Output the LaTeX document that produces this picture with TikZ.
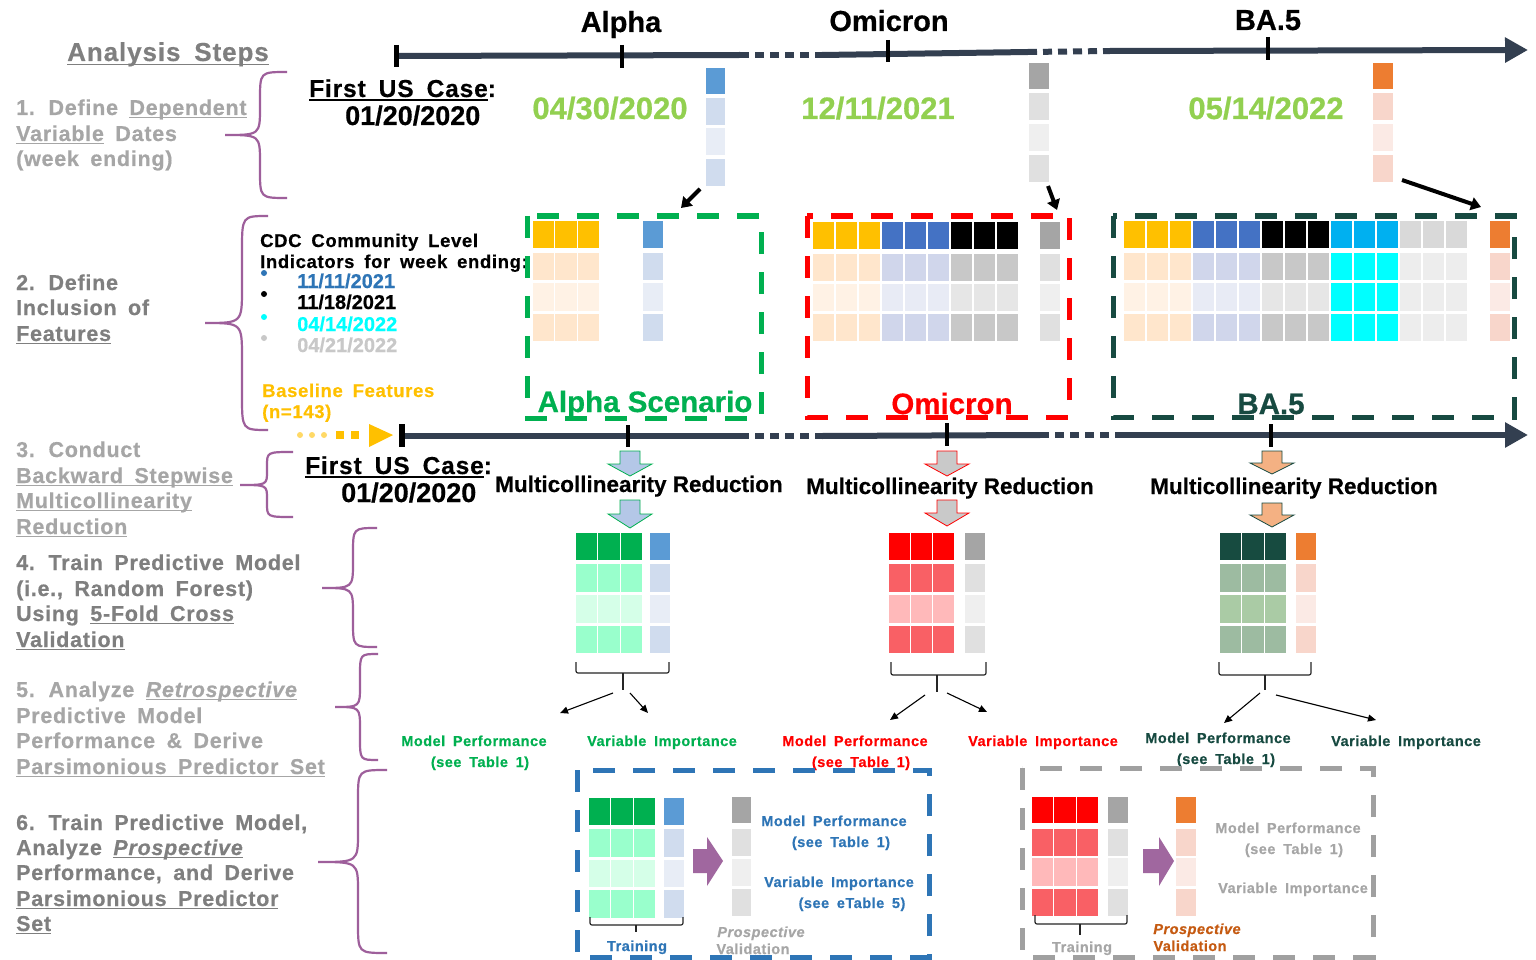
\documentclass[tikz,border=0pt]{standalone}
\usepackage{fontspec}
\setmainfont{Liberation Sans}[BoldFont={Liberation Sans Bold}, BoldItalicFont={Liberation Sans Bold Italic}, BoldFeatures={FakeBold=0.5}]
\newfontfamily\wsb{Liberation Sans Bold}[WordSpace=1.7, LetterSpace=3.5, FakeBold=0.5]
\newfontfamily\wsbi{Liberation Sans Bold Italic}[WordSpace=1.7, LetterSpace=3.5, FakeBold=0.5]
\newcommand\myul[1]{\setbox0\hbox{#1}\leavevmode\rlap{\rule[-0.16em]{\wd0}{0.06em}}\box0\relax}
\usetikzlibrary{arrows.meta}
\definecolor{tlc}{HTML}{333F50}
\definecolor{brc}{HTML}{9E5F9B}
\definecolor{dg}{HTML}{7F7F7F}
\definecolor{lg}{HTML}{A6A6A6}
\definecolor{dtgreen}{HTML}{92D050}
\definecolor{agreen}{HTML}{00B050}
\definecolor{ared}{HTML}{FF0000}
\definecolor{bgreen}{HTML}{174A41}
\definecolor{pblue}{HTML}{2E75B6}
\definecolor{porange}{HTML}{C55A11}
\definecolor{gbox}{HTML}{A0A0A0}
\definecolor{ylw}{HTML}{FFC000}
\definecolor{ylw2}{HTML}{FFE6CC}
\definecolor{ylw3}{HTML}{FFF2E5}
\definecolor{ylwl}{HTML}{FFD966}
\definecolor{bl}{HTML}{4472C4}
\definecolor{bl2}{HTML}{D0D6EB}
\definecolor{bl3}{HTML}{E8EBF5}
\definecolor{blk2}{HTML}{C8C8C8}
\definecolor{blk3}{HTML}{E6E6E6}
\definecolor{cy}{HTML}{00B0F0}
\definecolor{cy2}{HTML}{00FFFF}
\definecolor{lgr}{HTML}{D9D9D9}
\definecolor{lgr2}{HTML}{EDEDED}
\definecolor{tb}{HTML}{5B9BD5}
\definecolor{tb2}{HTML}{D0DCEE}
\definecolor{tb3}{HTML}{E8EDF6}
\definecolor{tg}{HTML}{A5A5A5}
\definecolor{tg2}{HTML}{E0E0E0}
\definecolor{tg3}{HTML}{EFEFEF}
\definecolor{to}{HTML}{ED7D31}
\definecolor{to2}{HTML}{F8D6CB}
\definecolor{to3}{HTML}{FBEAE5}
\definecolor{mg}{HTML}{00B050}
\definecolor{mg2}{HTML}{99FFCC}
\definecolor{mg3}{HTML}{D5FFE8}
\definecolor{mr}{HTML}{FF0000}
\definecolor{mr2}{HTML}{F96065}
\definecolor{mr3}{HTML}{FFB9BA}
\definecolor{md}{HTML}{174B40}
\definecolor{md2}{HTML}{9DBBA1}
\definecolor{md3}{HTML}{AACBA5}
\definecolor{arrA}{HTML}{B4C7E7}
\definecolor{arrO}{HTML}{C9C9C9}
\definecolor{arrB}{HTML}{F4B183}
\definecolor{purp}{HTML}{A0679F}
\definecolor{dgray}{HTML}{C8C8C8}

\newcommand\setrows[8]{\def\ra{#1}\def\rb{#2}\def\rc{#3}\def\rd{#4}\def\re{#5}\def\rf{#6}\def\rg{#7}\def\rh{#8}}
\newcommand\cellcolm[6]{%
 \path[cell,fill=#3] (#1,\ra) rectangle (#2,\rb);
 \path[cell,fill=#4] (#1,\rc) rectangle (#2,\rd);
 \path[cell,fill=#5] (#1,\re) rectangle (#2,\rf);
 \path[cell,fill=#6] (#1,\rg) rectangle (#2,\rh);}
\newcommand\cellgrp[6]{\foreach \k in {0,1,2}{\cellcolm{#1+\k*#2}{#1+\k*#2+#2}{#3}{#4}{#5}{#6}}}
\newcommand\stepbrace[7]{%
 \draw[brcst] (#1,#4) .. controls (#2,#4) .. (#2,#4+#7) -- (#2,#5-#7) .. controls (#2,#5) .. (#3,#5) .. controls (#2,#5) .. (#2,#5+#7) -- (#2,#6-#7) .. controls (#2,#6) .. (#1,#6);}
\newcommand\blockdown[6]{%
 \filldraw[fill=#5,draw=#6,line width=0.8pt] (#1-10,#2) -- (#1+10,#2) -- (#1+10,#3) -- (#1+22,#3) -- (#1,#4) -- (#1-22,#3) -- (#1-10,#3) -- cycle;}
\newcommand\hbracket[6]{%
 \draw[brk] (#1,#4) -- (#1,#5) -- (#2,#5) -- (#2,#4);
 \draw[brk] (#3,#5) -- (#3,#6);}
\newcommand\blockright[4]{%
 \fill[purp] (#1,#4-12) -- (#2,#4-12) -- (#2,#4-24) -- (#3,#4) -- (#2,#4+25) -- (#2,#4+12) -- (#1,#4+12) -- cycle;}

\begin{document}
\begin{tikzpicture}[x=1pt,y=-1pt,
 stp/.style={font=\wsb\fontsize{21.5}{26}\selectfont, anchor=base west, inner sep=0pt},
 ttl/.style={font=\bfseries\fontsize{29}{32}\selectfont, anchor=base, inner sep=0pt},
 dte/.style={font=\bfseries\fontsize{31}{34}\selectfont, anchor=base, inner sep=0pt, text=dtgreen},
 fus/.style={font=\wsb\fontsize{24.5}{28}\selectfont, anchor=base west, inner sep=0pt},
 fud/.style={font=\bfseries\fontsize{27}{30}\selectfont, anchor=base west, inner sep=0pt},
 cdc/.style={font=\wsb\fontsize{18.5}{22}\selectfont, anchor=base west, inner sep=0pt},
 cdd/.style={font=\bfseries\fontsize{20}{22}\selectfont, anchor=base west, inner sep=0pt},
 mred/.style={font=\bfseries\fontsize{22.5}{26}\selectfont, anchor=base, inner sep=0pt},
 lbl/.style={font=\wsb\fontsize{14.5}{17}\selectfont, anchor=base, inner sep=0pt},
 lbli/.style={font=\wsbi\fontsize{14.5}{17}\selectfont, anchor=base, inner sep=0pt},
 scen/.style={font=\bfseries\fontsize{29.5}{34}\selectfont, anchor=base, inner sep=0pt},
 tl/.style={line width=6pt, draw=tlc},
 tld/.style={line width=6pt, draw=tlc, dash pattern=on 9pt off 6pt},
 tick/.style={line width=4pt, draw=black},
 brcst/.style={draw=brc, line width=2.2pt},
 cell/.style={draw=white, line width=1.2pt},
 bigarr/.style={line width=4pt, -{Triangle[length=10pt,width=13pt]}},
 thinarr/.style={line width=1.1pt, -{Triangle[length=8pt,width=7pt]}},
 dbox/.style={line width=5pt, dash pattern=on 22pt off 18pt},
 brk/.style={line width=1.2pt, rounded corners=2pt, draw=black!85}]
\useasboundingbox (0,0) rectangle (1536,960);
\fill[white] (0,0) rectangle (1536,960);

% ---------- top timeline ----------
\coordinate (t0) at (396,56); \coordinate (t1) at (740,55); \coordinate (t2) at (822,55);
\coordinate (t3) at (1028,52); \coordinate (t4) at (1110,51); \coordinate (t5) at (1528,50);
\draw[tl] (t0) -- (t1); \draw[tld] (t1) -- (t2); \draw[tl] (t2) -- (t3); \draw[tld] (t3) -- (t4);
\draw[tl,-{Triangle[length=23pt,width=24pt]}] (t4) -- (t5);
\draw[line width=5pt] (396,45) -- (396,67);
\draw[tick] (622,45) -- (622,68);
\draw[tick] (888,40) -- (888,62);
\draw[tick] (1268,37) -- (1268,60);
\node[ttl] (alpha) at (621,32) {Alpha};
\node[ttl] (omicron) at (889,31) {Omicron};
\node[ttl] (ba5) at (1268,30) {BA.5};
\node[dte] (d1) at (610,119) {04/30/2020};
\node[dte] (d2) at (878,119) {12/11/2021};
\node[dte] (d3) at (1266,119) {05/14/2022};
\node[fus] (fus1) at (309,97) {\myul{First US Case}:};
\node[fud] (fud1) at (345,125) {01/20/2020};

% top columns
\setrows{67}{95}{97}{126}{127}{156}{158}{187}
\cellcolm{705}{726}{tb}{tb2}{tb3}{tb2}
\setrows{62}{90}{92}{121}{123}{152}{154}{183}
\cellcolm{1028}{1050}{tg}{tg2}{tg3}{tg2}
\cellcolm{1372}{1394}{to}{to2}{to3}{to2}

\coordinate (ka1) at (700,189); \coordinate (ka2) at (681,208);
\coordinate (kb1) at (1048,186); \coordinate (kb2) at (1057,210);
\coordinate (kc1) at (1402,180); \coordinate (kc2) at (1481,207);
\draw[bigarr] (ka1) -- (ka2);
\draw[bigarr] (kb1) -- (kb2);
\draw[bigarr] (kc1) -- (kc2);

% ---------- analysis steps ----------
\node[font=\wsb\fontsize{26}{30}\selectfont, anchor=base, inner sep=0pt, text=dg] (title) at (168,61) {\myul{Analysis Steps}};
\node[stp,text=lg] (s1a) at (16,115) {1. Define \myul{Dependent}};
\node[stp,text=lg] (s1b) at (16,141) {\myul{Variable} Dates};
\node[stp,text=lg] (s1c) at (16,166) {(week ending)};
\node[stp,text=dg] (s2a) at (16,290) {2. Define};
\node[stp,text=dg] (s2b) at (16,315) {Inclusion of};
\node[stp,text=dg] (s2c) at (16,341) {\myul{Features}};
\node[stp,text=lg] (s3a) at (16,457) {3. Conduct};
\node[stp,text=lg] (s3b) at (16,483) {\myul{Backward Stepwise}};
\node[stp,text=lg] (s3c) at (16,508) {\myul{Multicollinearity}};
\node[stp,text=lg] (s3d) at (16,534) {\myul{Reduction}};
\node[stp,text=dg] (s4a) at (16,570) {4. Train Predictive Model};
\node[stp,text=dg] (s4b) at (16,596) {(i.e., Random Forest)};
\node[stp,text=dg] (s4c) at (16,621) {Using \myul{5-Fold Cross}};
\node[stp,text=dg] (s4d) at (16,647) {\myul{Validation}};
\node[stp,text=lg] (s5a) at (16,697) {5. Analyze \myul{\wsbi Retrospective}};
\node[stp,text=lg] (s5b) at (16,723) {Predictive Model};
\node[stp,text=lg] (s5c) at (16,748) {Performance \& Derive};
\node[stp,text=lg] (s5d) at (16,774) {\myul{Parsimonious Predictor Set}};
\node[stp,text=dg] (s6a) at (16,830) {6. Train Predictive Model,};
\node[stp,text=dg] (s6b) at (16,855) {Analyze \myul{\wsbi Prospective}};
\node[stp,text=dg] (s6c) at (16,880) {Performance, and Derive};
\node[stp,text=dg] (s6d) at (16,906) {\myul{Parsimonious Predictor}};
\node[stp,text=dg] (s6e) at (16,931) {\myul{Set}};

\stepbrace{287}{260}{225}{72}{135}{198}{28}
\stepbrace{268}{242}{205}{216}{323}{430}{35}
\stepbrace{293}{267}{240}{452}{485}{517}{14}
\stepbrace{377}{353}{322}{528}{588}{647}{26}
\stepbrace{378}{360}{335}{654}{707}{760}{22}
\stepbrace{387}{358}{318}{770}{862}{953}{30}

% ---------- CDC text ----------
\node[cdc] (cdc1) at (260,247) {CDC Community Level};
\node[cdc] (cdc2) at (260,268) {Indicators for week ending:};
\fill[pblue] (264,273) circle (3);
\fill[black] (264,294) circle (3);
\fill[cy2] (264,317) circle (3);
\fill[dgray] (264,338) circle (3);
\node[cdd,text=pblue] (cd1) at (297,288) {11/11/2021};
\node[cdd,text=black] (cd2) at (297,309) {11/18/2021};
\node[cdd,text=cy2] (cd3) at (297,331) {04/14/2022};
\node[cdd,text=dgray] (cd4) at (297,352) {04/21/2022};
\node[cdc,text=ylw] (bf1) at (262,397) {Baseline Features};
\node[cdc,text=ylw] (bf2) at (262,418) {(n=143)};

% ---------- scenario tables ----------
\setrows{220}{249}{252}{281}{282}{312}{313}{342}
\cellgrp{532}{22.67}{ylw}{ylw2}{ylw3}{ylw2}
\cellcolm{642}{664}{tb}{tb2}{tb3}{tb2}
\setrows{221}{250}{253}{282}{283}{312}{313}{342}
\cellgrp{812}{23}{ylw}{ylw2}{ylw3}{ylw2}
\cellgrp{881}{23}{bl}{bl2}{bl3}{bl2}
\cellgrp{950}{23}{black}{blk2}{blk3}{blk2}
\cellcolm{1039}{1061}{tg}{tg2}{tg3}{tg2}
\setrows{220}{249}{252}{281}{282}{312}{313}{342}
\cellgrp{1123}{23}{ylw}{ylw2}{ylw3}{ylw2}
\cellgrp{1192}{23}{bl}{bl2}{bl3}{bl2}
\cellgrp{1261}{23}{black}{blk2}{blk3}{blk2}
\cellgrp{1330}{23}{cy}{cy2}{cy2}{cy2}
\cellgrp{1399}{23}{lgr}{lgr2}{lgr2}{lgr2}
\cellcolm{1489}{1511}{to}{to2}{to3}{to2}

\draw[dbox,draw=agreen] (527,216) rectangle (761,418);
\draw[dbox,draw=ared] (807,216) rectangle (1069,417);
\draw[dbox,draw=bgreen] (1113,216) rectangle (1514,417);
\node[scen,text=agreen] (scA) at (645,412) {Alpha Scenario};
\node[scen,text=ared] (scO) at (952,414) {Omicron};
\node[scen,text=bgreen] (scB) at (1271,414) {BA.5};

% ---------- second timeline ----------
\foreach \xx in {300,312,324}{\fill[ylwl] (\xx,435) circle (3);}
\fill[ylw] (336,431) rectangle (344,439);
\fill[ylw] (351,431) rectangle (359,439);
\fill[ylw] (369,424) -- (393,435) -- (369,447) -- cycle;
\coordinate (u0) at (402,436); \coordinate (u1) at (740,436); \coordinate (u2) at (822,436);
\coordinate (u3) at (1040,435); \coordinate (u4) at (1115,435); \coordinate (u5) at (1528,435);
\draw[tl] (u0) -- (u1); \draw[tld] (u1) -- (u2); \draw[tl] (u2) -- (u3); \draw[tld] (u3) -- (u4);
\draw[tl,-{Triangle[length=23pt,width=24pt]}] (u4) -- (u5);
\draw[line width=6pt] (402,424) -- (402,447);
\draw[tick] (628,425) -- (628,447);
\draw[tick] (947,423) -- (947,446);
\draw[tick] (1271,424) -- (1271,447);
\node[fus] (fus2) at (305,474) {\myul{First US Case}:};
\node[fud] (fud2) at (341,502) {01/20/2020};

% ---------- multicollinearity reduction ----------
\blockdown{630}{451}{464}{476}{arrA}{agreen}
\blockdown{630}{500}{514}{528}{arrA}{agreen}
\blockdown{947}{451}{464}{476}{arrO}{ared}
\blockdown{947}{500}{513}{526}{arrO}{ared}
\blockdown{1272}{451}{463}{474}{arrB}{bgreen}
\blockdown{1272}{503}{515}{527}{arrB}{bgreen}
\node[mred] (mrA) at (639,492) {Multicollinearity Reduction};
\node[mred] (mrO) at (950,494) {Multicollinearity Reduction};
\node[mred] (mrB) at (1294,494) {Multicollinearity Reduction};

% ---------- step 4 tables ----------
\setrows{532}{561}{563}{593}{594}{624}{625}{654}
\cellgrp{575}{22.67}{mg}{mg2}{mg3}{mg2}
\cellcolm{649}{671}{tb}{tb2}{tb3}{tb2}
\cellgrp{888}{22.33}{mr}{mr2}{mr3}{mr2}
\cellcolm{964}{986}{tg}{tg2}{tg3}{tg2}
\cellgrp{1219}{22.67}{md}{md2}{md3}{md2}
\cellcolm{1295}{1317}{to}{to2}{to3}{to2}

\hbracket{576}{669}{623}{662}{673}{690}
\hbracket{891}{986}{937}{662}{675}{692}
\hbracket{1219}{1311}{1265}{662}{675}{690}

\coordinate (pa1) at (613,693); \coordinate (pa2) at (560,713);
\coordinate (pa3) at (630,693); \coordinate (pa4) at (648,713);
\coordinate (po1) at (925,695); \coordinate (po2) at (890,720);
\coordinate (po3) at (947,693); \coordinate (po4) at (987,712);
\coordinate (pb1) at (1260,693); \coordinate (pb2) at (1224,723);
\coordinate (pb3) at (1276,695); \coordinate (pb4) at (1376,720);
\draw[thinarr] (pa1) -- (pa2); \draw[thinarr] (pa3) -- (pa4);
\draw[thinarr] (po1) -- (po2); \draw[thinarr] (po3) -- (po4);
\draw[thinarr] (pb1) -- (pb2); \draw[thinarr] (pb3) -- (pb4);

\node[lbl,text=agreen] (mpA) at (474,746) {Model Performance};
\node[lbl,text=agreen] (mpA2) at (480,767) {(see Table 1)};
\node[lbl,text=agreen] (viA) at (662,746) {Variable Importance};
\node[lbl,text=ared] (mpO) at (855,746) {Model Performance};
\node[lbl,text=ared] (mpO2) at (861,767) {(see Table 1)};
\node[lbl,text=ared] (viO) at (1043,746) {Variable Importance};
\node[lbl,text=bgreen] (mpB) at (1218,743) {Model Performance};
\node[lbl,text=bgreen] (mpB2) at (1226,764) {(see Table 1)};
\node[lbl,text=bgreen] (viB) at (1406,746) {Variable Importance};

% ---------- step 6 boxes ----------
\setrows{797}{826}{828}{858}{859}{888}{889}{919}
\cellgrp{588}{22.67}{mg}{mg2}{mg3}{mg2}
\cellcolm{663}{685}{tb}{tb2}{tb3}{tb2}
\setrows{796}{824}{828}{857}{858}{887}{888}{917}
\cellcolm{731}{752}{tg}{tg2}{tg3}{tg2}
\setrows{796}{824}{828}{857}{857}{887}{888}{917}
\cellgrp{1031}{22.67}{mr}{mr2}{mr3}{mr2}
\cellcolm{1107}{1129}{tg}{tg2}{tg3}{tg2}
\cellcolm{1175}{1197}{to}{to2}{to3}{to2}
\hbracket{590}{683}{636}{917}{925}{932}
\hbracket{1035}{1127}{1080}{915}{924}{935}
\blockright{693}{707}{723}{861}
\blockright{1143}{1159}{1174}{861}
\draw[dbox,draw=pblue] (577,770) rectangle (929,957);
\draw[dbox,draw=gbox] (1022,768) rectangle (1373,957);

\node[lbl,text=pblue] (bmp) at (834,826) {Model Performance};
\node[lbl,text=pblue] (bst) at (841,847) {(see Table 1)};
\node[lbl,text=pblue] (bvi) at (839,887) {Variable Importance};
\node[lbl,text=pblue] (bet) at (852,908) {(see eTable 5)};
\node[lbl,text=pblue] (btr) at (637,951) {Training};
\node[lbli,text=lg] (bpr) at (761,937) {Prospective};
\node[lbl,text=lg] (bva) at (753,954) {Validation};
\node[lbl,text=lg] (gmp) at (1288,833) {Model Performance};
\node[lbl,text=lg] (gst) at (1294,854) {(see Table 1)};
\node[lbl,text=lg] (gvi) at (1293,893) {Variable Importance};
\node[lbl,text=lg] (gtr) at (1082,952) {Training};
\node[lbli,text=porange] (gpr) at (1197,934) {Prospective};
\node[lbl,text=porange] (gva) at (1190,951) {Validation};
\end{tikzpicture}
\end{document}
